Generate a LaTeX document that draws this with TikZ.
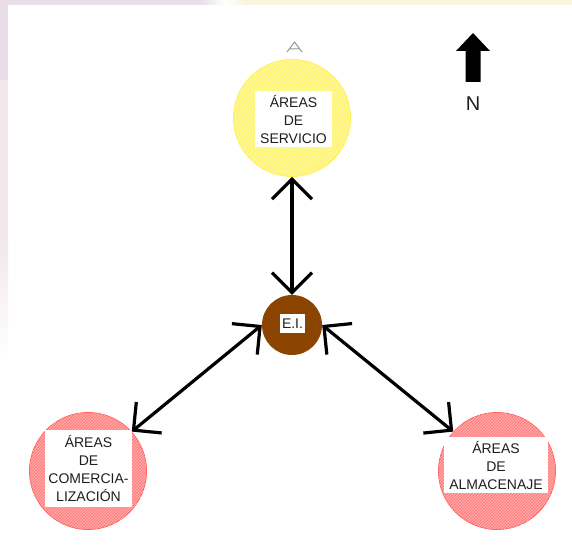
\documentclass[tikz,border=0pt]{standalone}
\usepackage{fontspec}
\setmainfont{Liberation Sans}
\usetikzlibrary{arrows.meta,patterns}
\definecolor{bgpink}{HTML}{E9DDE7}
\definecolor{bgpink2}{HTML}{F1E7EC}
\definecolor{bgcream}{HTML}{FAF3DF}
\definecolor{servfill}{HTML}{FFF36E}
\definecolor{servhatch}{HTML}{FFFBB8}
\definecolor{servedge}{HTML}{FFEF40}
\definecolor{redfill}{HTML}{FF8383}
\definecolor{redhatch}{HTML}{FFB8B8}
\definecolor{rededge}{HTML}{FF5A5A}
\definecolor{eibrown}{HTML}{8B4500}
\definecolor{labeltext}{HTML}{1E1E1E}
\begin{document}
\begin{tikzpicture}[x=1pt,y=-1pt,
  zone/.style={circle,inner sep=0pt,minimum size=117pt,line width=0.8pt},
  servzone/.style={zone,draw=servedge,fill=servfill,
    postaction={pattern=north east lines,pattern color=servhatch}},
  redzone/.style={zone,draw=rededge,fill=redfill,
    postaction={pattern=north east lines,pattern color=redhatch}},
  eizone/.style={circle,inner sep=0pt,minimum size=60pt,fill=eibrown},
  lbl/.style={fill=white,inner sep=1pt,align=center,text=labeltext,
    font=\fontsize{14}{18}\selectfont},
  link/.style={line width=3.2pt,
    {Straight Barb[length=20pt,width=40pt,line width=3.2pt]}-{Straight Barb[length=20pt,width=40pt,line width=3.2pt]}}
]
\useasboundingbox (0,0) rectangle (572,559);
% background strips
\fill[white] (0,0) rectangle (572,559);
\fill[bgpink] (0,0) rectangle (200,5);
\shade[left color=bgpink,right color=white] (200,0) rectangle (225,5);
\shade[left color=white,right color=bgcream] (225,0) rectangle (245,5);
\fill[bgcream] (245,0) rectangle (572,5);
\fill[bgpink] (0,0) rectangle (8,80);
\fill[bgpink2] (0,80) rectangle (8,240);
\shade[top color=bgpink2,bottom color=white] (0,240) rectangle (8,360);

% zones
\node[servzone] (serv) at (292,118) {};
\node[eizone] (ei) at (292,325) {};
\node[redzone] (com) at (88,471) {};
\node[redzone] (alm) at (497,471) {};

% labels
\node[lbl,minimum width=77pt,minimum height=56pt] (servlbl) at (293.5,119) {ÁREAS\\DE\\SERVICIO};
\node[lbl,minimum width=25pt,minimum height=19pt,inner sep=0.5pt] (eilbl) at (292.5,323.5) {E.I.};
\node[lbl,minimum width=87pt,minimum height=77pt] (comlbl) at (88.5,468.5) {ÁREAS\\DE\\COMERCIA-\\LIZACIÓN};
\node[lbl,minimum width=104pt,minimum height=56pt] (almlbl) at (496,465) {ÁREAS\\DE\\ALMACENAJE};

% connectors
\draw[link] (serv.south) -- (ei.north);
\draw[link] (ei.west) -- (com.42);
\draw[link] (ei.east) -- (alm.138);

% small mark above
\draw[gray!80,line width=1pt,line join=round]
  (287,52) -- (294.5,42) -- (302,52)
  (289.5,49) -- (299.5,49);

% north arrow
\fill[black] (465.5,82) -- (465.5,51) -- (456,51) -- (473,33) -- (490,51) -- (480.5,51) -- (480.5,82) -- cycle;
\node[font=\fontsize{20}{22}\selectfont,text=labeltext] (north) at (473,104) {N};
\end{tikzpicture}
\end{document}
